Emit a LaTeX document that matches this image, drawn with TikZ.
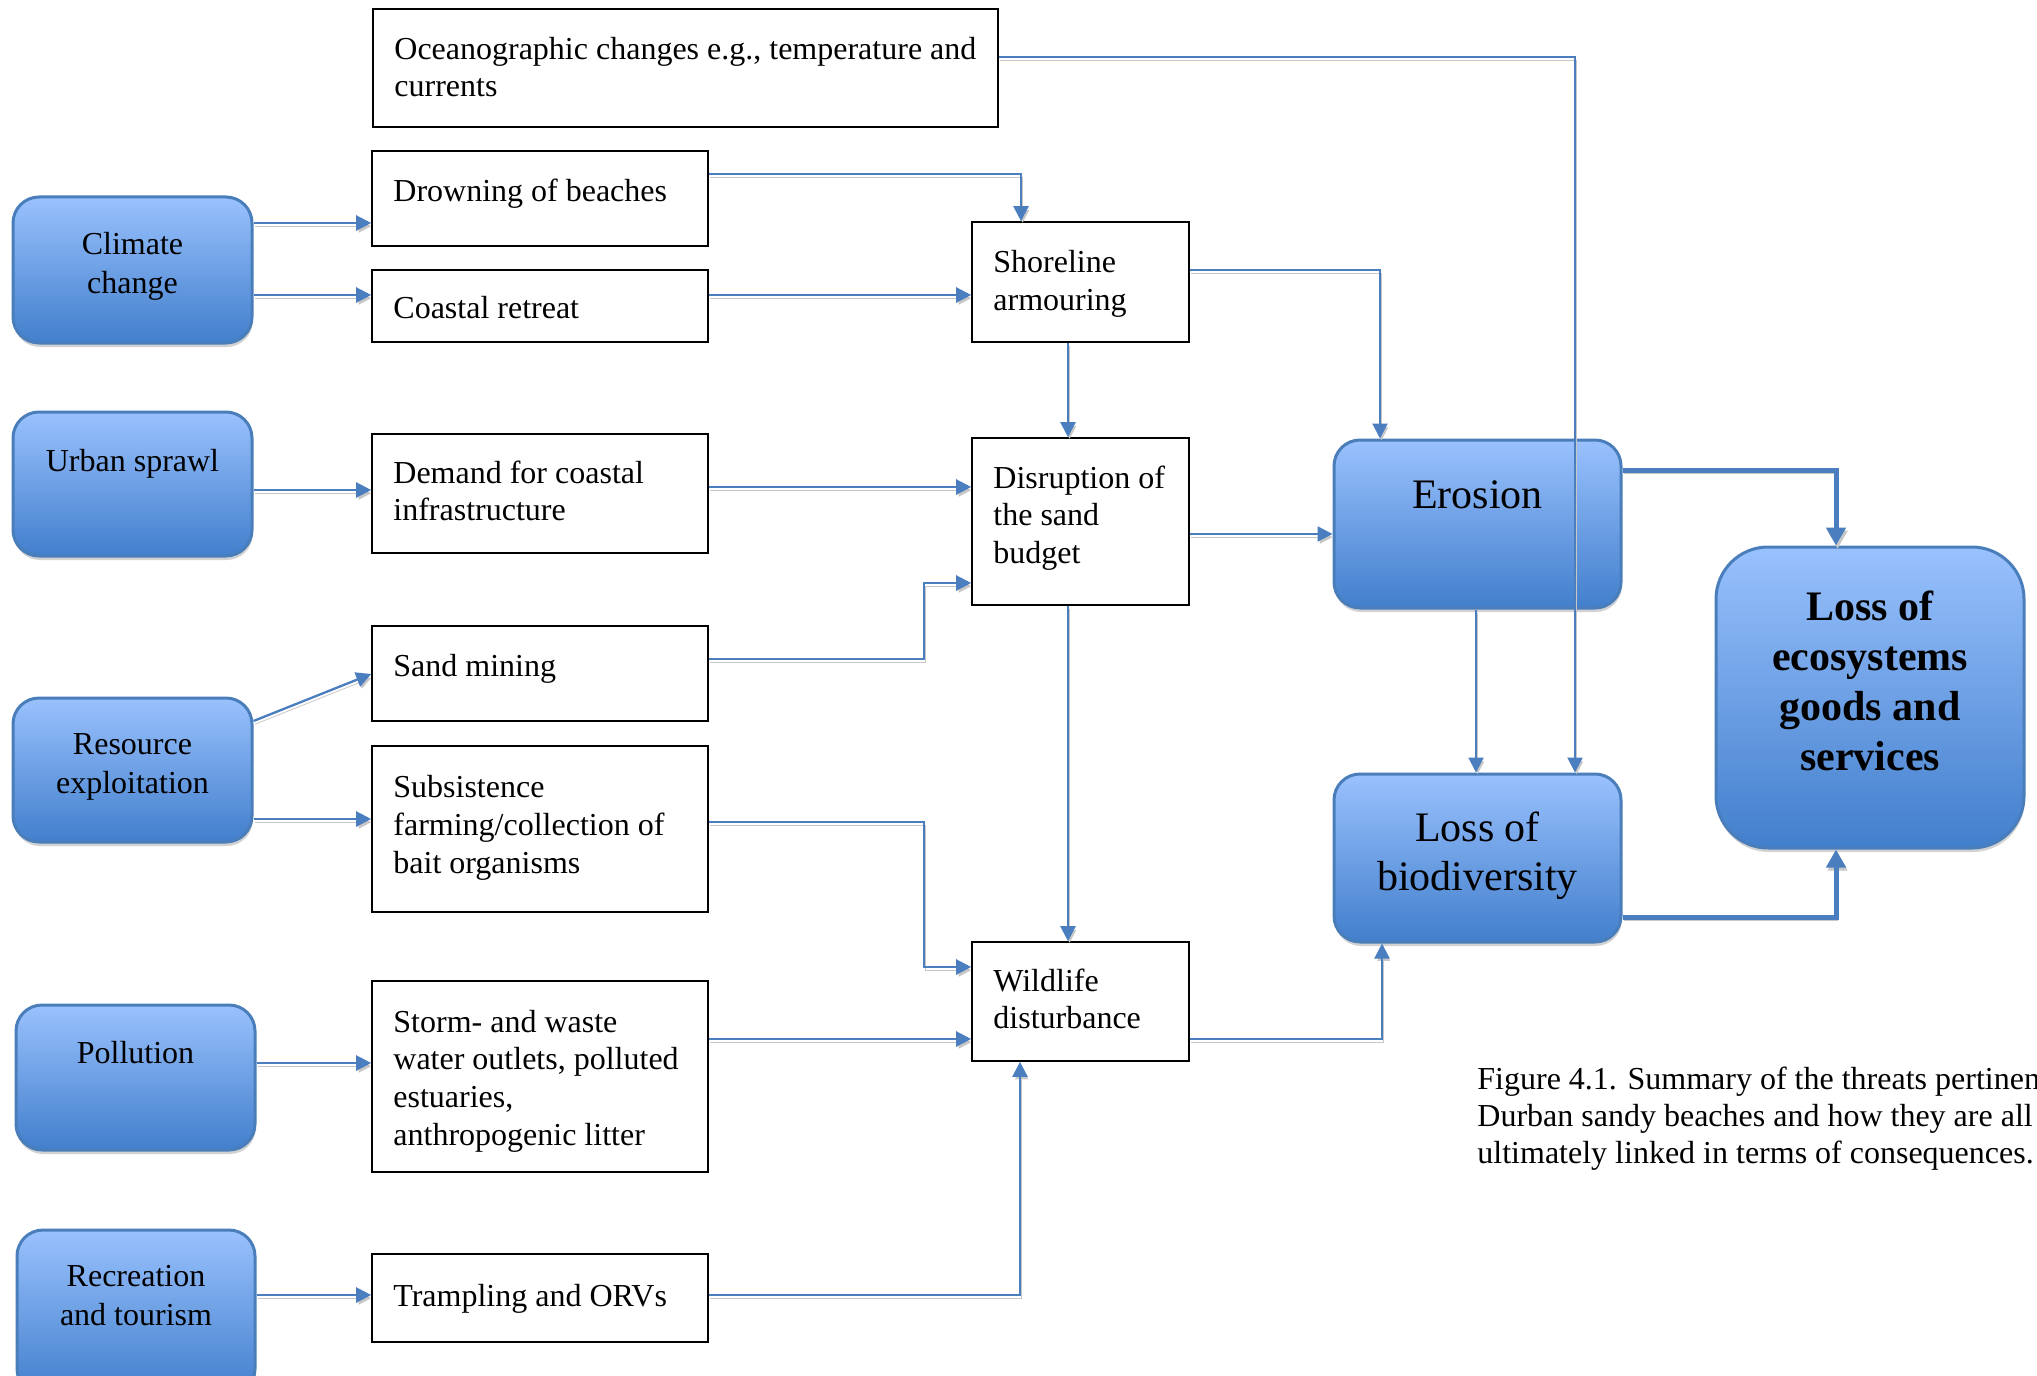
\documentclass[tikz,border=0pt]{standalone}
\usepackage{fontspec}
\setmainfont{Liberation Serif}
\usetikzlibrary{arrows.meta,shadows}
\definecolor{lineblue}{RGB}{74,126,191}
\definecolor{bordblue}{RGB}{74,126,187}
\definecolor{topblue}{RGB}{153,193,253}
\definecolor{botblue}{RGB}{66,127,204}
\begin{document}
\begin{tikzpicture}[x=0.5pt,y=-0.5pt,
  wbox/.style={draw=black, line width=0.8pt, inner sep=0pt},
  wtext/.style={font=\fontsize{16}{18.85}\selectfont, align=left, inner sep=0pt, anchor=west},
  bbox/.style={draw=bordblue, line width=1.5pt, rounded corners=13pt, top color=topblue, bottom color=botblue, inner sep=0pt,
    drop shadow={shadow xshift=0.4pt, shadow yshift=-2pt, fill=black!35, opacity=0.5}},
  btext/.style={font=\fontsize{16}{19.5}\selectfont, align=center, inner sep=0pt},
  bigtext/.style={font=\fontsize{21}{24.7}\selectfont, align=center, inner sep=0pt},
  ecotext/.style={font=\bfseries\fontsize{21}{24.9}\selectfont, align=center, inner sep=0pt},
  captext/.style={font=\fontsize{16}{18.5}\selectfont, align=left, inner sep=0pt, anchor=west},
  conn/.style={draw=lineblue, line width=1.15pt, -{Triangle[length=7.5pt,width=7.5pt]},
    preaction={draw=black!22, transform canvas={xshift=0.8pt,yshift=-1.6pt}}},
  bigconn/.style={draw=lineblue, line width=2.5pt, -{Triangle[length=9pt,width=9.5pt]},
    preaction={draw=black!22, transform canvas={xshift=0.8pt,yshift=-1.6pt}}}
]
\path[fill=white] (0,0) rectangle (2037,1375);
\useasboundingbox (0,0) rectangle (2037,1375);

% blue boxes
\node[bbox, minimum width=119.5pt, minimum height=73pt] (clim) at (132.5,270) {};
\node[btext] (climT) at (132.5,266) {Climate\\change};
\node[bbox, minimum width=119.5pt, minimum height=72pt] (urban) at (132.5,484) {};
\node[btext] (urbanT) at (132.5,464) {Urban sprawl};
\node[bbox, minimum width=119.5pt, minimum height=72pt] (res) at (132.5,770) {};
\node[btext] (resT) at (132.5,767) {Resource\\exploitation};
\node[bbox, minimum width=119.5pt, minimum height=72.5pt] (poll) at (135.5,1077.5) {};
\node[btext] (pollT) at (135.5,1053) {Pollution};
\node[bbox, minimum width=119pt, minimum height=82.5pt] (recr) at (136,1312.5) {};
\node[btext] (recrT) at (136,1296) {Recreation\\and tourism};
\node[bbox, minimum width=143.5pt, minimum height=84pt] (eros) at (1477.5,524) {};
\node[bigtext] (erosT) at (1477.5,495) {Erosion};
\node[bbox, minimum width=143.5pt, minimum height=84pt] (biod) at (1477.5,858) {};
\node[bigtext] (biodT) at (1477.5,856) {Loss of\\biodiversity};
\node[bbox, rounded corners=26pt, minimum width=154pt, minimum height=150.5pt] (eco) at (1870,697.5) {};
\node[ecotext] (ecoT) at (1870,681) {Loss of\\ecosystems\\goods and\\services};

% white boxes
\node[wbox, minimum width=312.5pt, minimum height=59pt] (ocean) at (685.5,68) {};
\node[wtext] (oceanT) at (394,67) {Oceanographic changes e.g., temperature and\\currents};
\node[wbox, minimum width=168pt, minimum height=47.5pt] (drown) at (540,198.5) {};
\node[wtext] (drownT) at (393,194) {Drowning of beaches};
\node[wbox, minimum width=168pt, minimum height=36pt] (coast) at (540,306) {};
\node[wtext] (coastT) at (393,308) {Coastal retreat};
\node[wbox, minimum width=108.5pt, minimum height=60pt] (shore) at (1080.5,282) {};
\node[wtext] (shoreT) at (993,284) {Shoreline\\armouring};
\node[wbox, minimum width=168pt, minimum height=59.5pt] (demand) at (540,493.5) {};
\node[wtext] (demandT) at (393,491) {Demand for coastal\\infrastructure};
\node[wbox, minimum width=108.5pt, minimum height=83.5pt] (disr) at (1080.5,521.5) {};
\node[wtext] (disrT) at (993,518) {Disruption of\\the sand\\budget};
\node[wbox, minimum width=168pt, minimum height=47.5pt] (sand) at (540,673.5) {};
\node[wtext] (sandT) at (393,669) {Sand mining};
\node[wbox, minimum width=168pt, minimum height=83pt] (subs) at (540,829) {};
\node[wtext] (subsT) at (393,828) {Subsistence\\farming/collection of\\bait organisms};
\node[wbox, minimum width=108.5pt, minimum height=59.5pt] (wild) at (1080.5,1001.5) {};
\node[wtext] (wildT) at (993,999) {Wildlife\\disturbance};
\node[wbox, minimum width=168pt, minimum height=95.5pt] (storm) at (540,1076.5) {};
\node[wtext] (stormT) at (393,1081) {Storm- and waste\\water outlets, polluted\\estuaries,\\anthropogenic litter};
\node[wbox, minimum width=168pt, minimum height=44pt] (tramp) at (540,1298) {};
\node[wtext] (trampT) at (393,1299) {Trampling and ORVs};

% caption
\node[captext] (cap) at (1477,1119) {Figure 4.1. Summary of the threats pertinen\\Durban sandy beaches and how they are all\\ultimately linked in terms of consequences.};

% connectors
\draw[conn] (clim.east |- 0,223) -- (drown.west |- 0,223);
\draw[conn] (clim.east |- 0,295) -- (coast.west |- 0,295);
\draw[conn] (drown.east |- 0,174) -| (1021,0 |- shore.north);
\draw[conn] (coast.east |- 0,295) -- (shore.west |- 0,295);
\draw[conn] (shore.east |- 0,270) -| (1380,0 |- eros.north);
\draw[conn] (1068,0 |- shore.south) -- (1068,0 |- disr.north);
\draw[conn] (urban.east |- 0,490) -- (demand.west |- 0,490);
\draw[conn] (demand.east |- 0,487) -- (disr.west |- 0,487);
\draw[conn] (sand.east |- 0,659) -| (924,583) -- (disr.west |- 0,583);
\draw[conn] (disr.east |- 0,534) -- (eros.west |- 0,534);
\draw[conn] (1068,0 |- disr.south) -- (1068,0 |- wild.north);
\draw[conn] (res.east |- 0,721) -- (sand.west |- 0,674);
\draw[conn] (res.east |- 0,819) -- (subs.west |- 0,819);
\draw[conn] (subs.east |- 0,822) -| (924,967) -- (wild.west |- 0,967);
\draw[conn] (poll.east |- 0,1063) -- (storm.west |- 0,1063);
\draw[conn] (storm.east |- 0,1039) -- (wild.west |- 0,1039);
\draw[conn] (tramp.east |- 0,1295) -| (1020,0 |- wild.south);
\draw[conn] (recr.east |- 0,1295) -- (tramp.west |- 0,1295);
\draw[conn] (wild.east |- 0,1039) -| (1382,0 |- biod.south);
\draw[conn] (ocean.east |- 0,57) -| (1575,0 |- biod.north);
\draw[conn] (1476,0 |- eros.south) -- (1476,0 |- biod.north);
\draw[bigconn] (eros.east |- 0,470) -| (1836,0 |- eco.north);
\draw[bigconn] (biod.east |- 0,917) -| (1836,0 |- eco.south);
\end{tikzpicture}
\end{document}
